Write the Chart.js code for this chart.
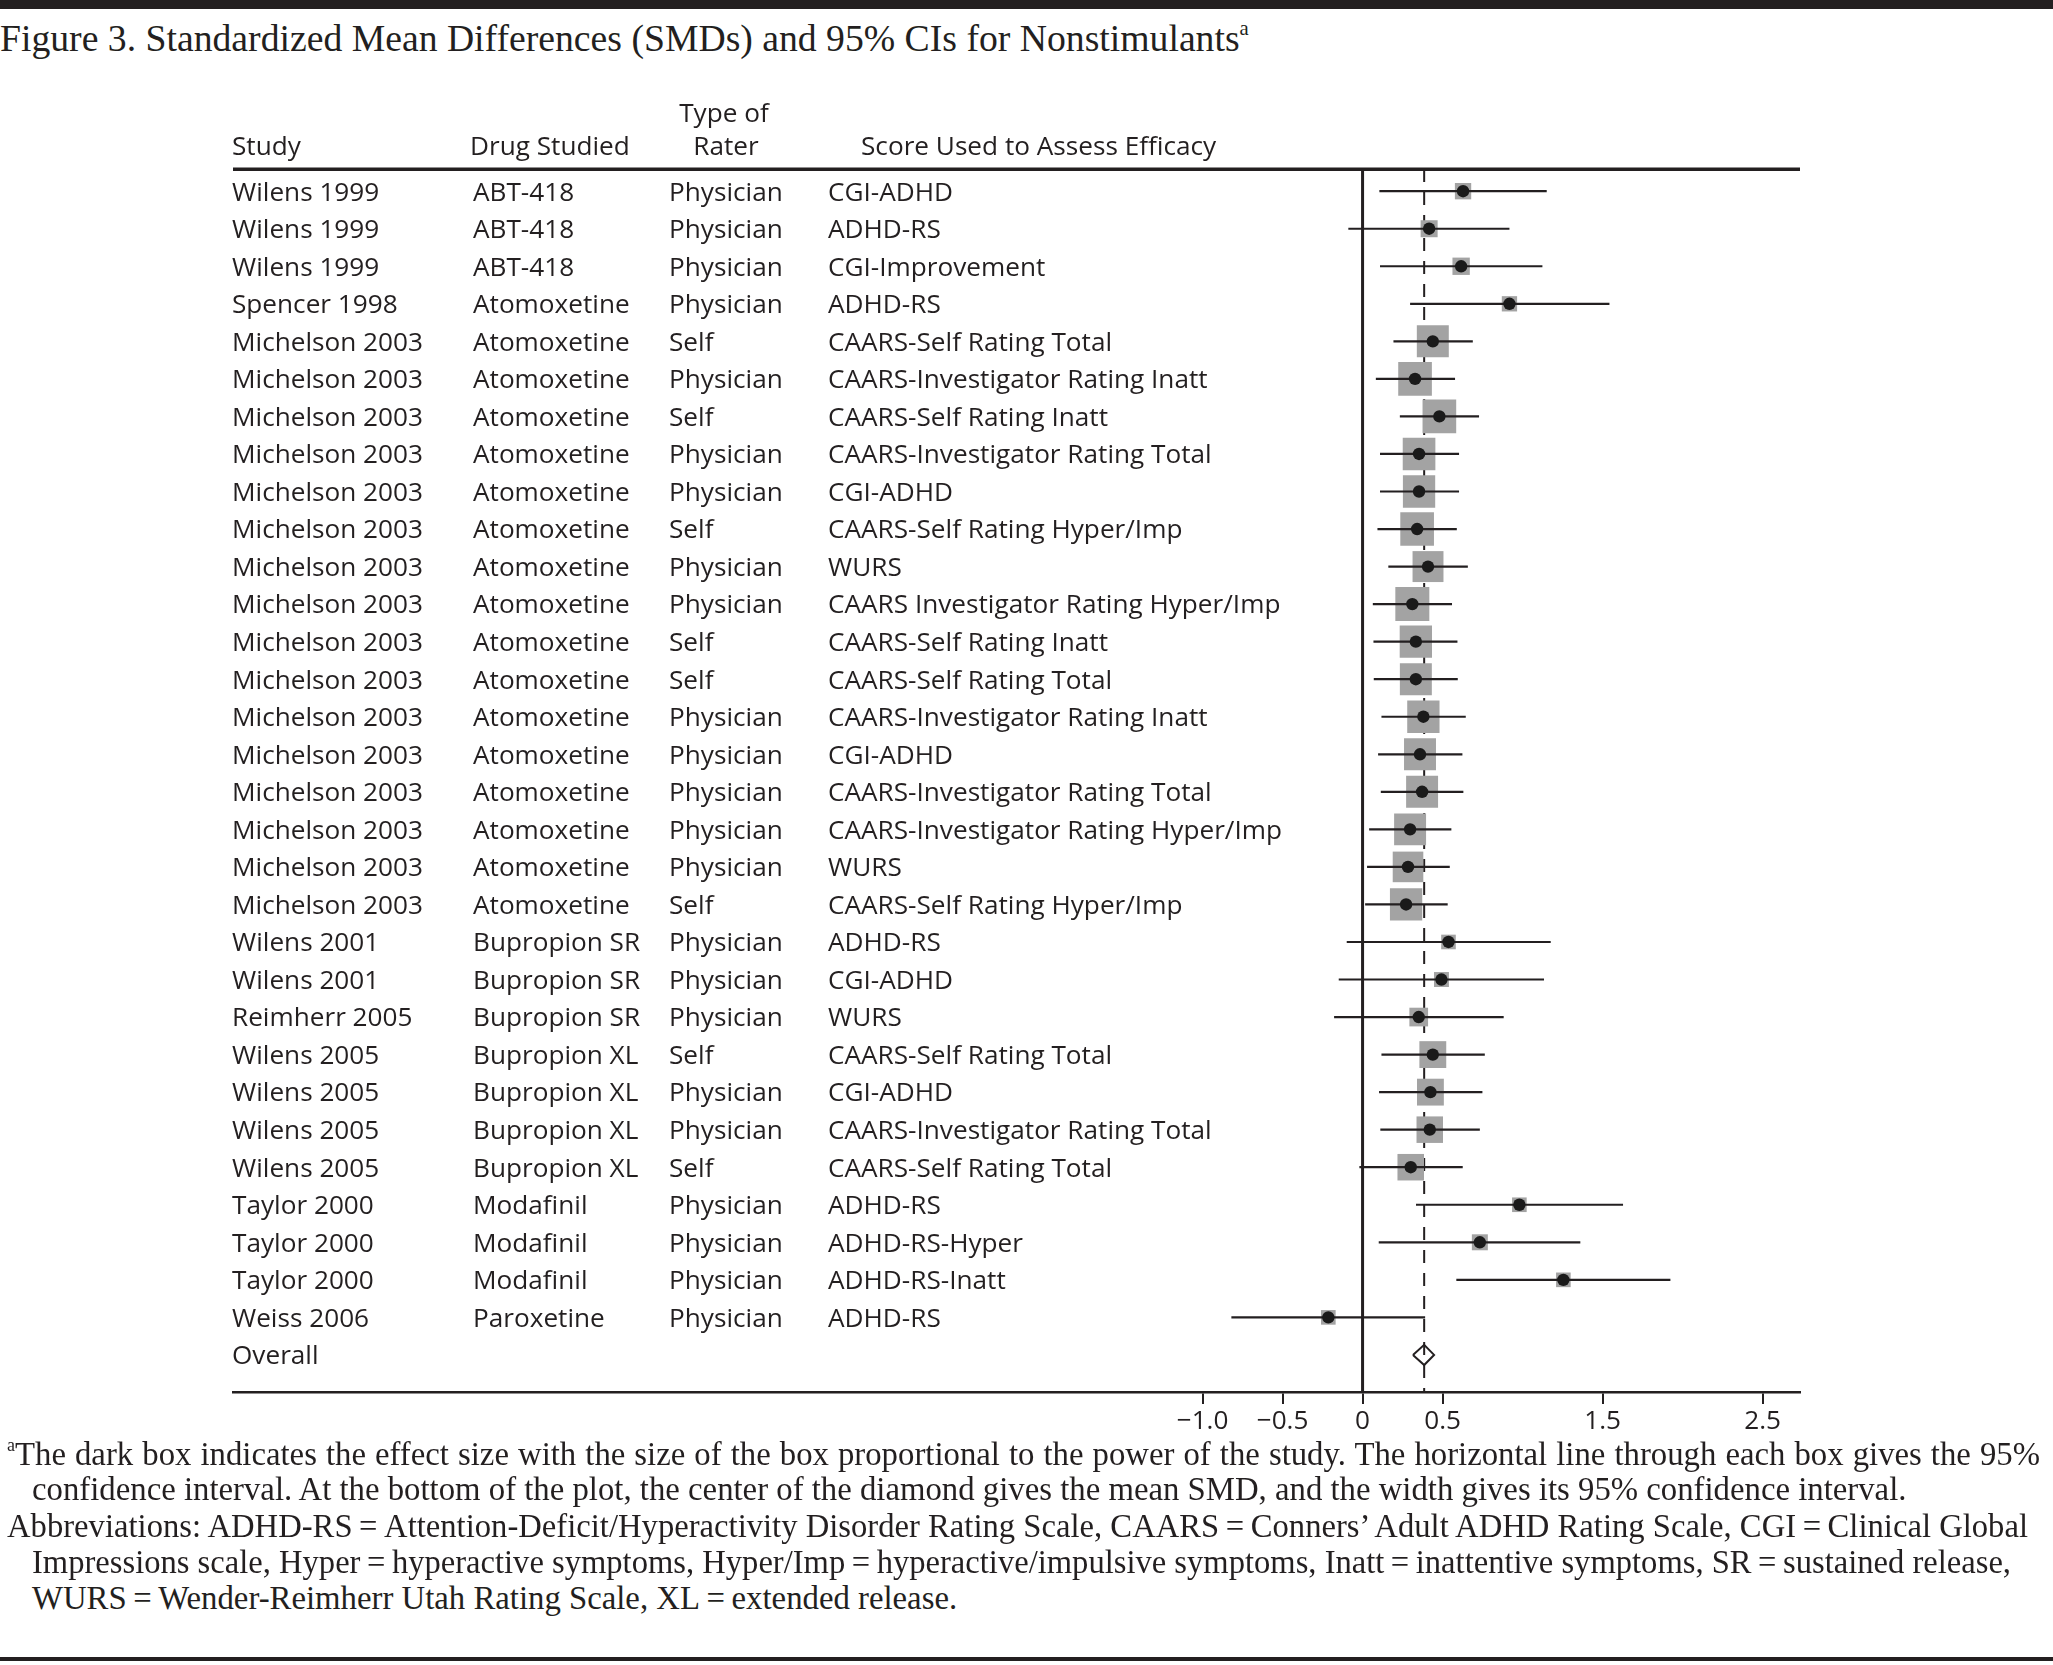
<!DOCTYPE html>
<html>
<head>
<meta charset="utf-8">
<title>Figure 3. SMDs and 95% CIs for Nonstimulants</title>
<script src="https://cdn.jsdelivr.net/npm/chart.js@4.4.1/dist/chart.umd.min.js"></script>
<style>
  html, body { margin: 0; padding: 0; background: #fff; }
  #page { position: relative; width: 2053px; height: 1665px; overflow: hidden; color: #231f20; }
  .rule { position: absolute; left: 0; width: 2053px; background: #231f20; }
  #forest { position: absolute; left: 0; top: 0; }
  .serif { position: absolute; font-family: "Liberation Serif", "Times New Roman", serif; white-space: nowrap; transform-origin: 0 0; }
  .serif sup { font-size: 55%; line-height: 0; vertical-align: 0.75em; }
</style>
</head>
<body>
<div id="page">
  <div class="rule" style="top:0;height:9px"></div>
  <div id="title" class="serif">Figure 3. Standardized Mean Differences (SMDs) and 95% CIs for Nonstimulants<sup>a</sup></div>
  <canvas id="forest" width="2053" height="1452"></canvas>
  <div class="serif note" data-left="7" data-width="2033" data-base="1465" data-just="1"><sup>a</sup>The dark box indicates the effect size with the size of the box proportional to the power of the study. The horizontal line through each box gives the 95%</div>
  <div class="serif note" data-left="32" data-width="0" data-base="1500">confidence interval. At the bottom of the plot, the center of the diamond gives the mean SMD, and the width gives its 95% confidence interval.</div>
  <div class="serif note" data-left="7" data-width="2021" data-base="1537" data-just="1">Abbreviations: ADHD-RS&#8201;=&#8201;Attention-Deficit/Hyperactivity Disorder Rating Scale, CAARS&#8201;=&#8201;Conners’ Adult ADHD Rating Scale, CGI&#8201;=&#8201;Clinical Global</div>
  <div class="serif note" data-left="32" data-width="1979" data-base="1573" data-just="1">Impressions scale, Hyper&#8201;=&#8201;hyperactive symptoms, Hyper/Imp&#8201;=&#8201;hyperactive/impulsive symptoms, Inatt&#8201;=&#8201;inattentive symptoms, SR&#8201;=&#8201;sustained release,</div>
  <div class="serif note" data-left="32" data-width="0" data-base="1609">WURS&#8201;=&#8201;Wender-Reimherr Utah Rating Scale, XL&#8201;=&#8201;extended release.</div>
  <div class="rule" style="top:1657px;height:4px"></div>
</div>
<script>
/* Forest plot — nonstimulant SMDs with 95% CIs */
'use strict';

const q = s => document.querySelector(s);
const qq = s => Array.from(document.querySelectorAll(s));

// ---- data ----
const STUDIES = ['Wilens 1999', 'Wilens 1999', 'Wilens 1999', 'Spencer 1998',
  'Michelson 2003', 'Michelson 2003', 'Michelson 2003', 'Michelson 2003', 'Michelson 2003',
  'Michelson 2003', 'Michelson 2003', 'Michelson 2003', 'Michelson 2003', 'Michelson 2003',
  'Michelson 2003', 'Michelson 2003', 'Michelson 2003', 'Michelson 2003', 'Michelson 2003',
  'Michelson 2003', 'Wilens 2001', 'Wilens 2001', 'Reimherr 2005', 'Wilens 2005',
  'Wilens 2005', 'Wilens 2005', 'Wilens 2005', 'Taylor 2000', 'Taylor 2000', 'Taylor 2000',
  'Weiss 2006'];
const DRUGS = ['ABT-418', 'ABT-418', 'ABT-418', 'Atomoxetine',
  'Atomoxetine', 'Atomoxetine', 'Atomoxetine', 'Atomoxetine', 'Atomoxetine',
  'Atomoxetine', 'Atomoxetine', 'Atomoxetine', 'Atomoxetine', 'Atomoxetine',
  'Atomoxetine', 'Atomoxetine', 'Atomoxetine', 'Atomoxetine', 'Atomoxetine',
  'Atomoxetine', 'Bupropion SR', 'Bupropion SR', 'Bupropion SR', 'Bupropion XL',
  'Bupropion XL', 'Bupropion XL', 'Bupropion XL', 'Modafinil', 'Modafinil', 'Modafinil',
  'Paroxetine'];
const RATERS = ['Physician', 'Physician', 'Physician', 'Physician',
  'Self', 'Physician', 'Self', 'Physician', 'Physician',
  'Self', 'Physician', 'Physician', 'Self', 'Self',
  'Physician', 'Physician', 'Physician', 'Physician', 'Physician',
  'Self', 'Physician', 'Physician', 'Physician', 'Self',
  'Physician', 'Physician', 'Self', 'Physician', 'Physician', 'Physician',
  'Physician'];
const SCORES = ['CGI-ADHD', 'ADHD-RS', 'CGI-Improvement', 'ADHD-RS',
  'CAARS-Self Rating Total', 'CAARS-Investigator Rating Inatt', 'CAARS-Self Rating Inatt',
  'CAARS-Investigator Rating Total', 'CGI-ADHD', 'CAARS-Self Rating Hyper/Imp', 'WURS',
  'CAARS Investigator Rating Hyper/Imp', 'CAARS-Self Rating Inatt', 'CAARS-Self Rating Total',
  'CAARS-Investigator Rating Inatt', 'CGI-ADHD', 'CAARS-Investigator Rating Total',
  'CAARS-Investigator Rating Hyper/Imp', 'WURS', 'CAARS-Self Rating Hyper/Imp',
  'ADHD-RS', 'CGI-ADHD', 'WURS', 'CAARS-Self Rating Total', 'CGI-ADHD',
  'CAARS-Investigator Rating Total', 'CAARS-Self Rating Total', 'ADHD-RS', 'ADHD-RS-Hyper',
  'ADHD-RS-Inatt', 'ADHD-RS'];

const SMD = [0.628, 0.416, 0.616, 0.918, 0.439, 0.328, 0.480, 0.353, 0.353, 0.341, 0.409,
  0.311, 0.333, 0.333, 0.380, 0.359, 0.372, 0.297, 0.284, 0.272, 0.537, 0.493, 0.351,
  0.439, 0.424, 0.420, 0.301, 0.980, 0.733, 1.255, -0.214];
const CI_LOW = [0.105, -0.089, 0.109, 0.297, 0.193, 0.083, 0.233, 0.109, 0.109, 0.093, 0.161,
  0.064, 0.068, 0.070, 0.118, 0.097, 0.114, 0.041, 0.028, 0.016, -0.099, -0.149, -0.178,
  0.118, 0.103, 0.111, -0.020, 0.334, 0.101, 0.586, -0.820];
const CI_HIGH = [1.151, 0.918, 1.124, 1.543, 0.689, 0.578, 0.728, 0.603, 0.603, 0.589, 0.658,
  0.559, 0.593, 0.595, 0.645, 0.624, 0.630, 0.555, 0.545, 0.532, 1.176, 1.134, 0.882,
  0.764, 0.749, 0.733, 0.626, 1.628, 1.361, 1.924, 0.391];
// relative study power (largest box = 1)
const WEIGHTS = [0.48, 0.50, 0.51, 0.45, 0.94, 0.99, 0.99, 0.96, 0.95, 0.99, 0.91, 1.00,
  0.95, 0.94, 0.95, 0.94, 0.94, 0.94, 0.90, 0.95, 0.43, 0.44, 0.55, 0.79, 0.79, 0.78, 0.78,
  0.43, 0.47, 0.43, 0.43];

const OVERALL_SMD = 0.385;
const OVERALL_LOW = 0.315;
const OVERALL_HIGH = 0.447;

const TICK_VALUES = [-1, -0.5, 0, 0.5, 1.5, 2.5];
const TICK_LABELS = ['\u22121.0', '\u22120.5', '0', '0.5', '1.5', '2.5'];
const HEADERS = ['Study', 'Drug Studied', 'Type of', 'Rater', 'Score Used to Assess Efficacy'];

// ---- layout / style ----
const X_MIN = -7.06, X_MAX = 2.734;       // axis runs under the whole table
const Y_MIN = 0.409, Y_MAX = 32.988;      // row index, 1 at the top
const INK = '#231f20';
const BOX_GREY = '#a3a3a3';
const BOX_MAX = 34;
const COL_X = [232, 473, 669, 828];
const SANS = '"Open Sans", "Noto Sans", sans-serif';

// fit the table font to the reference width of "Michelson 2003"
const measureCtx = document.createElement('canvas').getContext('2d');
measureCtx.font = `26px ${SANS}`;
const TABLE_PX = 26 * 191 / measureCtx.measureText('Michelson 2003').width;
const TABLE_FONT = `${TABLE_PX.toFixed(2)}px ${SANS}`;

const rows = STUDIES.map((_, i) => i + 1);
const OVERALL_ROW = STUDIES.length + 1;

function layoutSerifText() {
    // title
    const title = q('#title');
    measureCtx.font = '35px "Liberation Serif"';
    const tw = measureCtx.measureText('Figure 3. Standardized Mean Differences (SMDs) and 95% CIs for Nonstimulants').width;
    const tfs = 35 * 1240 / tw;
    title.style.fontSize = tfs + 'px';
    title.style.lineHeight = tfs + 'px';
    title.style.top = (52 - 0.8375 * tfs) + 'px';

    // footnotes: size from the one unjustified long line
    measureCtx.font = '30px "Liberation Serif"';
    const w2 = measureCtx.measureText('confidence interval. At the bottom of the plot, the center of the diamond gives the mean SMD, and the width gives its 95% confidence interval.').width;
    const fs = 30 * 1877 / w2;
    qq('.note').forEach(el => {
        el.style.fontSize = fs + 'px';
        el.style.lineHeight = '36px';
        el.style.left = el.dataset.left + 'px';
        el.style.top = (+el.dataset.base - (18 + 0.3375 * fs)) + 'px';
        const target = +el.dataset.width;
        if (!target) return;
        const w = el.getBoundingClientRect().width;
        if (w > target) {
            el.style.transform = `scaleX(${target / w})`;
        } else if (el.dataset.just) {
            el.style.whiteSpace = 'normal';
            el.style.width = target + 'px';
            el.style.textAlign = 'justify';
            el.style.textAlignLast = 'justify';
        }
    });
}

// table columns, header and top rule drawn against the y scale
const tablePlugin = {
    id: 'studyTable',
    afterDraw(chart) {
        const { ctx, chartArea, scales } = chart;
        const cap = TABLE_PX * 0.357;
        ctx.save();
        ctx.fillStyle = INK;
        ctx.fillRect(chartArea.left, chartArea.top - 1.5, chartArea.right - chartArea.left, 3.5);

        ctx.font = TABLE_FONT;
        ctx.textBaseline = 'alphabetic';
        ctx.textAlign = 'left';
        ctx.fillText(HEADERS[0], COL_X[0], 146 + cap);
        ctx.fillText(HEADERS[1], COL_X[1] - 3, 146 + cap);
        ctx.fillText(HEADERS[4], 861, 146 + cap);
        ctx.textAlign = 'center';
        ctx.fillText(HEADERS[2], 724, 113 + cap);
        ctx.fillText(HEADERS[3], 726, 146 + cap);

        ctx.textAlign = 'left';
        rows.forEach((r, i) => {
            const y = scales.y.getPixelForValue(r) + cap;
            ctx.fillText(STUDIES[i], COL_X[0], y);
            ctx.fillText(DRUGS[i], COL_X[1], y);
            ctx.fillText(RATERS[i], COL_X[2], y);
            ctx.fillText(SCORES[i], COL_X[3], y);
        });
        ctx.fillText('Overall', COL_X[0], scales.y.getPixelForValue(OVERALL_ROW) + cap);
        ctx.restore();
    }
};

function createChart() {
    const ciSets = rows.map((r, i) => ({
        data: [{ x: CI_LOW[i], y: r }, { x: CI_HIGH[i], y: r }],
        showLine: true,
        borderColor: INK,
        borderWidth: 2.2,
        borderCapStyle: 'butt',
        pointRadius: 0,
        order: 1
    }));

    const datasets = [
        {   // point estimates
            data: rows.map((r, i) => ({ x: SMD[i], y: r })),
            pointStyle: 'circle',
            pointRadius: 6.2,
            backgroundColor: '#1a1a1a',
            borderWidth: 0,
            order: 0
        },
        ...ciSets,
        {   // overall diamond
            data: [
                { x: OVERALL_LOW, y: OVERALL_ROW },
                { x: OVERALL_SMD, y: OVERALL_ROW - 0.27 },
                { x: OVERALL_HIGH, y: OVERALL_ROW },
                { x: OVERALL_SMD, y: OVERALL_ROW + 0.27 },
                { x: OVERALL_LOW, y: OVERALL_ROW }
            ],
            showLine: true,
            borderColor: INK,
            borderWidth: 2,
            pointRadius: 0,
            order: 1
        },
        {   // boxes sized by power
            data: rows.map((r, i) => ({ x: SMD[i], y: r })),
            pointStyle: 'rect',
            pointRadius: WEIGHTS.map(w => w * BOX_MAX / Math.SQRT2),
            backgroundColor: BOX_GREY,
            borderWidth: 0,
            order: 2
        },
        {   // overall SMD reference
            data: [{ x: OVERALL_SMD, y: Y_MIN }, { x: OVERALL_SMD, y: Y_MAX }],
            showLine: true,
            borderColor: INK,
            borderWidth: 2,
            borderDash: [13, 10],
            pointRadius: 0,
            order: 3
        },
        {   // no-effect line
            data: [{ x: 0, y: Y_MIN }, { x: 0, y: Y_MAX }],
            showLine: true,
            borderColor: INK,
            borderWidth: 3,
            pointRadius: 0,
            order: 3
        }
    ];

    return new Chart(q('#forest').getContext('2d'), {
        type: 'scatter',
        data: { datasets },
        plugins: [tablePlugin],
        options: {
            responsive: false,
            animation: false,
            events: [],
            layout: { padding: { left: 233, right: 253, top: 169, bottom: 0 } },
            plugins: { legend: { display: false }, tooltip: { enabled: false } },
            scales: {
                x: {
                    type: 'linear',
                    min: X_MIN,
                    max: X_MAX,
                    afterBuildTicks: scale => { scale.ticks = TICK_VALUES.map(v => ({ value: v })); },
                    afterFit: scale => { scale.height = 60; },
                    ticks: {
                        autoSkip: false,
                        maxRotation: 0,
                        padding: 2,
                        color: INK,
                        font: { family: SANS, size: TABLE_PX },
                        callback: v => TICK_LABELS[TICK_VALUES.indexOf(v)]
                    },
                    grid: { drawOnChartArea: false, drawTicks: true, tickLength: 12, color: INK, lineWidth: 2 },
                    border: { display: true, color: INK, width: 2.5 }
                },
                y: {
                    type: 'linear',
                    reverse: true,
                    min: Y_MIN,
                    max: Y_MAX,
                    display: false
                }
            }
        }
    });
}

layoutSerifText();
createChart();
</script>
</body>
</html>
